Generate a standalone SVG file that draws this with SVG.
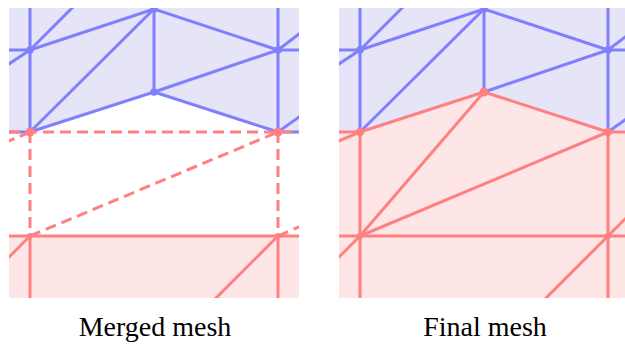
<svg xmlns="http://www.w3.org/2000/svg" width="625" height="345" viewBox="0 0 625 345">
<style>
.bl{stroke:#8080ff;stroke-width:3;fill:none;stroke-linecap:butt}
.rd{stroke:#ff8080;stroke-width:3;fill:none}
.dash{stroke:#ff8080;stroke-width:3;fill:none;stroke-dasharray:11 6}
.bfill{fill:#e5e5f7}
.rfill{fill:#ffe6e6}
.bn{fill:#8080ff}
.rn{fill:#ff8080}
.lbl{font-family:"Liberation Serif","Times New Roman",serif;font-size:28px;fill:#000;text-anchor:middle}
</style>
<defs>
<clipPath id="clipL"><rect x="9" y="8" width="290" height="290"/></clipPath>
<clipPath id="clipR"><rect x="339" y="8" width="290" height="290"/></clipPath>
</defs>
<rect width="625" height="345" fill="#fff"/>

<!-- Left panel: merged mesh -->
<g id="panel-merged" clip-path="url(#clipL)">
  <polygon class="bfill" points="0,0 310,0 310,132 278,132 154,92 30,132 0,132"/>
  <rect class="rfill" x="0" y="236" width="310" height="70"/>
  <g id="connectors-merged">
    <line class="bl" x1="30" y1="0" x2="30" y2="132"/>
    <line class="bl" x1="278" y1="0" x2="278" y2="132"/>
    <line class="bl" x1="154" y1="9" x2="154" y2="92"/>
    <line class="bl" x1="0" y1="50" x2="30" y2="50"/>
    <line class="bl" x1="278" y1="50" x2="310" y2="50"/>
    <line class="bl" x1="30" y1="50" x2="154" y2="9"/>
    <line class="bl" x1="154" y1="9" x2="278" y2="50"/>
    <line class="bl" x1="30" y1="132" x2="154" y2="9"/>
    <line class="bl" x1="30" y1="50" x2="80" y2="0"/>
    <line class="bl" x1="30" y1="50" x2="-94" y2="132"/>
    <line class="bl" x1="278" y1="50" x2="320" y2="18"/>
    <line class="bl" x1="278" y1="132" x2="320" y2="102"/>
    <line class="bl" x1="30" y1="132" x2="154" y2="92"/>
    <line class="bl" x1="154" y1="92" x2="278" y2="132"/>
    <line class="bl" x1="154" y1="92" x2="278" y2="50"/>
    <line class="bl" x1="0" y1="132" x2="30" y2="132"/>
    <line class="bl" x1="278" y1="132" x2="310" y2="132"/>
    <line class="dash" x1="9" y1="132" x2="299" y2="132"/>
    <line class="dash" x1="30" y1="132" x2="30" y2="236"/>
    <line class="dash" x1="278" y1="132" x2="278" y2="236"/>
    <line class="dash" x1="30" y1="236" x2="278" y2="132"/>
    <line class="dash" x1="30" y1="132" x2="-10" y2="149"/>
    <line class="dash" x1="278" y1="236" x2="310" y2="222"/>
    <line class="rd" x1="0" y1="236" x2="310" y2="236"/>
    <line class="rd" x1="30" y1="236" x2="30" y2="310"/>
    <line class="rd" x1="278" y1="236" x2="278" y2="310"/>
    <line class="rd" x1="30" y1="236" x2="-10" y2="276"/>
    <line class="rd" x1="278" y1="236" x2="204" y2="310"/>
  </g>
  <g id="nodes-merged">
    <g id="m-a"><circle class="bn" cx="30" cy="50" r="3.8"/></g>
    <g id="m-b"><circle class="bn" cx="154" cy="9" r="3.8"/></g>
    <g id="m-c"><circle class="bn" cx="278" cy="50" r="3.8"/></g>
    <g id="m-d"><circle class="bn" cx="154" cy="92" r="3.8"/></g>
    <g id="m-e"><circle class="rn" cx="30" cy="132" r="4.5"/></g>
    <g id="m-f"><circle class="rn" cx="278" cy="132" r="4.5"/></g>
    <g id="m-g"><circle class="rn" cx="30" cy="236" r="3"/></g>
    <g id="m-h"><circle class="rn" cx="278" cy="236" r="3"/></g>
  </g>
</g>

<!-- Right panel: final mesh -->
<g id="panel-final" clip-path="url(#clipR)">
  <polygon class="bfill" points="330,0 640,0 640,132 608,132 484,92 360,132 330,132"/>
  <polygon class="rfill" points="330,132 360,132 484,92 608,132 640,132 640,310 330,310"/>
  <g id="connectors-final">
    <line class="bl" x1="360" y1="0" x2="360" y2="132"/>
    <line class="bl" x1="608" y1="0" x2="608" y2="132"/>
    <line class="bl" x1="484" y1="9" x2="484" y2="92"/>
    <line class="bl" x1="330" y1="50" x2="360" y2="50"/>
    <line class="bl" x1="608" y1="50" x2="640" y2="50"/>
    <line class="bl" x1="360" y1="50" x2="484" y2="9"/>
    <line class="bl" x1="484" y1="9" x2="608" y2="50"/>
    <line class="bl" x1="360" y1="132" x2="484" y2="9"/>
    <line class="bl" x1="360" y1="50" x2="410" y2="0"/>
    <line class="bl" x1="360" y1="50" x2="236" y2="132"/>
    <line class="bl" x1="608" y1="50" x2="650" y2="18"/>
    <line class="bl" x1="608" y1="132" x2="650" y2="102"/>
    <line class="bl" x1="484" y1="92" x2="608" y2="50"/>
    <line class="rd" x1="360" y1="132" x2="484" y2="92"/>
    <line class="rd" x1="484" y1="92" x2="608" y2="132"/>
    <line class="rd" x1="330" y1="132" x2="360" y2="132"/>
    <line class="rd" x1="608" y1="132" x2="640" y2="132"/>
    <line class="rd" x1="360" y1="132" x2="320" y2="149"/>
    <line class="rd" x1="360" y1="132" x2="360" y2="310"/>
    <line class="rd" x1="608" y1="132" x2="608" y2="310"/>
    <line class="rd" x1="484" y1="92" x2="360" y2="236"/>
    <line class="rd" x1="360" y1="236" x2="608" y2="132"/>
    <line class="rd" x1="330" y1="236" x2="640" y2="236"/>
    <line class="rd" x1="360" y1="236" x2="320" y2="276"/>
    <line class="rd" x1="608" y1="236" x2="534" y2="310"/>
    <line class="rd" x1="608" y1="236" x2="640" y2="204"/>
  </g>
  <g id="nodes-final">
    <g id="f-a"><circle class="bn" cx="360" cy="50" r="3.8"/></g>
    <g id="f-b"><circle class="bn" cx="484" cy="9" r="3.8"/></g>
    <g id="f-c"><circle class="bn" cx="608" cy="50" r="3.8"/></g>
    <g id="f-d"><circle class="rn" cx="484" cy="92" r="4.5"/></g>
    <g id="f-e"><circle class="rn" cx="360" cy="132" r="4.2"/></g>
    <g id="f-f"><circle class="rn" cx="608" cy="132" r="4.2"/></g>
    <g id="f-g"><circle class="rn" cx="360" cy="236" r="3"/></g>
    <g id="f-h"><circle class="rn" cx="608" cy="236" r="3"/></g>
  </g>
</g>

<text class="lbl" x="155" y="336">Merged mesh</text>
<text class="lbl" x="485" y="336">Final mesh</text>
</svg>
